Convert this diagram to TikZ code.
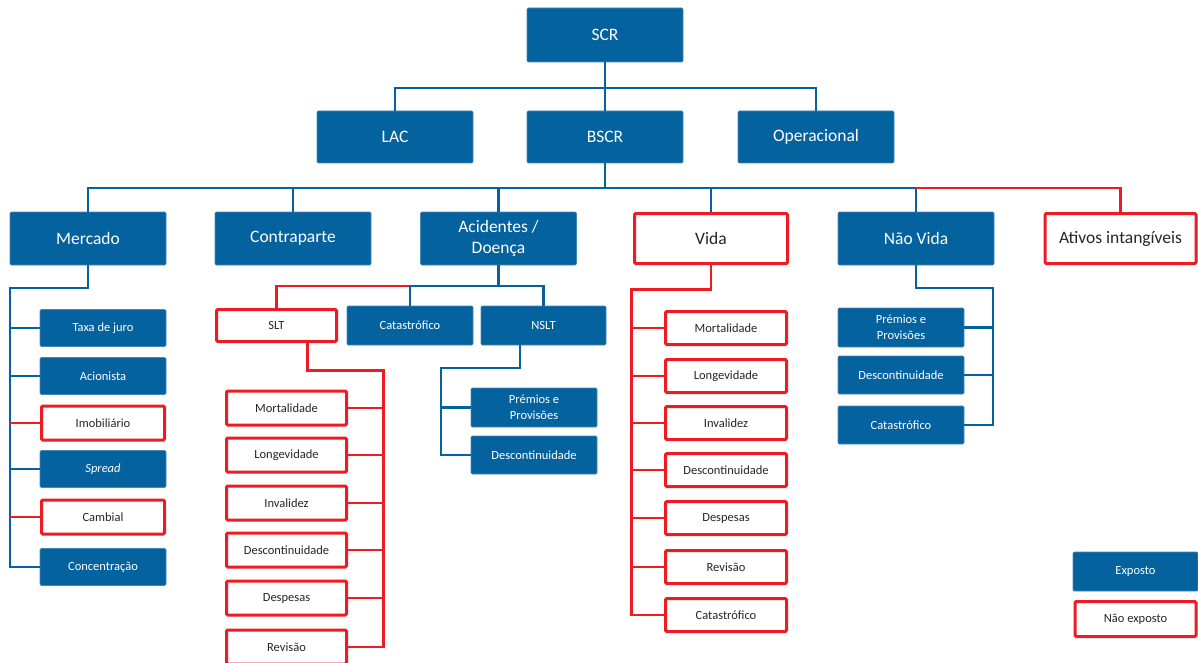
\documentclass[tikz,border=0pt]{standalone}
\usepackage{fontspec}
\setmainfont{Carlito}
\usetikzlibrary{positioning}
\definecolor{sfblue}{RGB}{4,98,159}
\definecolor{sfred}{RGB}{237,28,36}
\definecolor{sftext}{RGB}{38,38,38}

\begin{document}
\begin{tikzpicture}[x=1pt, y=-1pt]
        \tikzstyle{box} = [rectangle, inner sep=0pt, align=center, rounded corners=1.2pt]
        \tikzstyle{exp} = [box, fill=sfblue, draw=sfblue!75!white, line width=0.6pt, text=white]
        \tikzstyle{nexp} = [box, fill=white, draw=sfred, line width=3pt, text=sftext]
        \tikzstyle{lvl} = [minimum width=156, minimum height=53, font=\fontsize{17.5}{21}\selectfont]
        \tikzstyle{kid} = [minimum width=126, minimum height=37, font=\fontsize{12.5}{16}\selectfont]
        \tikzstyle{bline} = [draw=sfblue, line width=2.3pt]
        \tikzstyle{rline} = [draw=sfred, line width=2.3pt]

        \useasboundingbox (0,0) rectangle (1198,663);

        \node[exp, lvl, minimum height=54] (scr) at (605,35) {SCR};
        \node[exp, lvl, minimum height=52] (lac) at (395,137) {LAC};
        \node[exp, lvl, minimum height=52] (bscr) at (605,137) {BSCR};
        \node[exp, lvl, minimum height=52] (oper) at (816,137) {Operacional};

        \node[exp, lvl] (merc) at (88,238.5) {Mercado};
        \node[exp, lvl] (contr) at (293,238.5) {Contraparte};
        \node[exp, lvl] (acid) at (498.5,238.5) {Acidentes /\\Doença};
        \node[nexp, lvl, minimum width=153, minimum height=50] (vida) at (711,238.5) {Vida};
        \node[exp, lvl] (nvida) at (916,238.5) {Não Vida};
        \node[nexp, lvl, minimum width=151, minimum height=50] (ativos) at (1120.5,238.5) {Ativos intangíveis};

        \foreach \n/\t/\y in {taxa/Taxa de juro/328, acion/Acionista/376, spread/\textit{Spread}/469, conc/Concentração/567}
            \node[exp, kid] (\n) at (103,\y) {\t};
        \foreach \n/\t/\y in {imob/Imobiliário/423, camb/Cambial/517}
            \node[nexp, kid, minimum width=123, minimum height=34] (\n) at (103,\y) {\t};

        \node[nexp, kid, minimum width=120, minimum height=32] (slt) at (276.5,325.5) {SLT};
        \node[exp, kid, minimum height=39] (cata) at (410,325.5) {Catastrófico};
        \node[exp, kid, minimum width=125, minimum height=39] (nslt) at (543.5,325.5) {NSLT};

        \foreach \n/\t/\y in {smort/Mortalidade/408, slong/Longevidade/455, sinv/Invalidez/503, sdesc/Descontinuidade/550, sdesp/Despesas/598, srev/Revisão/647}
            \node[nexp, kid, minimum width=120, minimum height=34] (\n) at (286.5,\y) {\t};

        \node[exp, kid, minimum height=39] (nprem) at (534,407.5) {Prémios e\\Provisões};
        \node[exp, kid, minimum height=38] (ndesc) at (534,455) {Descontinuidade};

        \foreach \n/\t/\y in {vmort/Mortalidade/328, vlong/Longevidade/376, vinv/Invalidez/423, vdesc/Descontinuidade/470, vdesp/Despesas/518, vrev/Revisão/567, vcat/Catastrófico/615}
            \node[nexp, kid, minimum width=121, minimum height=33] (\n) at (726,\y) {\t};

        \node[exp, kid, minimum height=39] (nvprem) at (901,327.5) {Prémios e\\Provisões};
        \node[exp, kid, minimum height=38] (nvdesc) at (901,375) {Descontinuidade};
        \node[exp, kid, minimum height=38] (nvcat) at (901,425) {Catastrófico};

        \node[exp, kid, minimum width=125, minimum height=39] (lexp) at (1135.5,571.5) {Exposto};
        \node[nexp, kid, minimum width=121, minimum height=35] (lnexp) at (1135.5,619) {Não exposto};

        \draw[bline] (scr.south) -- (bscr.north);
        \draw[bline] (lac.north) -- ++(0,-23) -| (oper.north);

        \draw[bline] (bscr.south) -- ++(0,25) coordinate (bus1);
        \draw[bline] (merc.north) |- (bus1) -| (nvida.north);
        \foreach \n in {contr, acid, vida}
            \draw[bline] (\n.north) -- (\n.north |- bus1);
        \draw[rline] (nvida.north |- bus1) -| (ativos.north);

        \draw[bline] (merc.south) -- ++(0,23) -| ([xshift=-30]conc.west) -- (conc.west);
        \foreach \n in {taxa, acion, spread}
            \draw[bline] (\n.west) -- ++(-30,0);
        \foreach \n in {imob, camb}
            \draw[rline] (\n.west) -- ++(-31.5,0);

        \draw[bline] (acid.south) -- ++(0,21) coordinate (bus2);
        \draw[rline] (slt.north) |- (cata.north |- bus2);
        \draw[bline] (cata.north) |- (bus2) -| (nslt.north);

        \draw[rline] ([xshift=31]slt.south) -- ++(0,27.5) -| ([xshift=35.5]srev.east) -- (srev.east);
        \foreach \n in {smort, slong, sinv, sdesc, sdesp}
            \draw[rline] (\n.east) -- ++(35.5,0);

        \draw[bline] ([xshift=-23.5]nslt.south) -- ++(0,23) -| ([xshift=-30]ndesc.west) -- (ndesc.west);
        \draw[bline] (nprem.west) -- ++(-30,0);

        \draw[rline] (vida.south) -- ++(0,24.5) -| ([xshift=-32.5]vcat.west) -- (vcat.west);
        \foreach \n in {vmort, vlong, vinv, vdesc, vdesp, vrev}
            \draw[rline] (\n.west) -- ++(-32.5,0);

        \draw[bline] (nvida.south) -- ++(0,23) -| ([xshift=29]nvcat.east) -- (nvcat.east);
        \foreach \n in {nvprem, nvdesc}
            \draw[bline] (\n.east) -- ++(29,0);

    \end{tikzpicture}
\end{document}
